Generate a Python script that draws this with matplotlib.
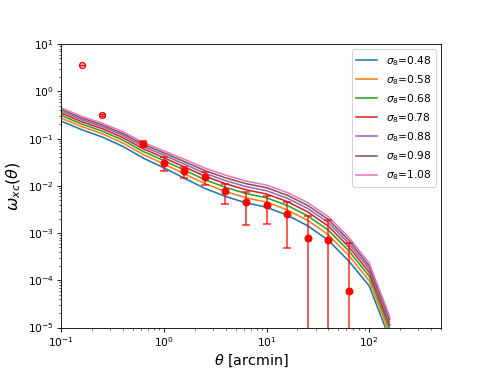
import matplotlib
matplotlib.use('Agg')
import matplotlib.pyplot as plt
import numpy as np

# angular bins [arcmin] where the model is evaluated
theta = [0.1, 0.158, 0.251, 0.398, 0.631, 1.0, 1.585, 2.51, 3.98, 6.31,
         10.0, 15.85, 25.1, 39.8, 63.1, 100.0, 158.0]

sigma8 = [0.48, 0.58, 0.68, 0.78, 0.88, 0.98, 1.08]

# model curves, one per sigma8
w_048 = [0.234, 0.155, 0.108, 0.0684, 0.0385, 0.0240, 0.01445, 0.00881, 0.00596, 0.00437,
         0.00351, 0.0024, 0.00143, 0.000708, 0.000257, 7.59e-5, 5.82e-6]
w_058 = [0.272, 0.180, 0.127, 0.0807, 0.0459, 0.0291, 0.0179, 0.0111, 0.00759, 0.00558,
         0.00452, 0.0031, 0.00186, 0.000927, 0.000337, 9.82e-5, 7.5e-6]
w_068 = [0.309, 0.204, 0.144, 0.0929, 0.0533, 0.0342, 0.0215, 0.01346, 0.00929, 0.00687,
         0.00558, 0.00385, 0.00232, 0.00116, 0.000422, 1.22e-4, 9.27e-6]
w_078 = [0.345, 0.228, 0.162, 0.105, 0.0607, 0.0394, 0.0251, 0.0160, 0.0111, 0.00824,
         0.00671, 0.00466, 0.00281, 0.00141, 0.000513, 1.47e-4, 1.11e-5]
w_088 = [0.379, 0.251, 0.179, 0.117, 0.0679, 0.0446, 0.0288, 0.01845, 0.0129, 0.00964,
         0.00787, 0.00548, 0.00332, 0.00168, 0.000608, 1.73e-4, 1.31e-5]
w_098 = [0.413, 0.273, 0.195, 0.128, 0.075, 0.0498, 0.0325, 0.0210, 0.0148, 0.0111,
         0.0091, 0.00634, 0.00385, 0.00195, 0.000708, 2.0e-4, 1.51e-5]
w_108 = [0.447, 0.295, 0.211, 0.140, 0.0822, 0.0550, 0.0363, 0.0237, 0.0168, 0.0126,
         0.01035, 0.00724, 0.00442, 0.00224, 0.000813, 2.29e-4, 1.72e-5]
models = [w_048, w_058, w_068, w_078, w_088, w_098, w_108]

# measurements (first two drawn as open circles)
theta_obs = [0.158, 0.251, 0.631, 1.0, 1.585, 2.51, 3.98, 6.31, 10.0, 15.85, 25.1, 39.8, 63.1]
w_obs = [3.59, 0.313, 0.076, 0.0312, 0.0204, 0.0152, 0.0077, 0.00456, 0.00388, 0.00259,
         0.000803, 0.000703, 5.93e-5]
w_hi = [3.62, 0.33, 0.088, 0.0409, 0.025, 0.0194, 0.0112, 0.00743, 0.00602, 0.00456,
        0.00227, 0.00193, 0.00061]
w_lo = [3.56, 0.297, 0.065, 0.0207, 0.015, 0.0103, 0.00422, 0.00146, 0.00156, 0.000483,
        1e-8, 1e-8, 1e-8]
n_open = 2

fig, ax = plt.subplots(figsize=(490 / 76.6, 368 / 76.6), dpi=76.6)

for s, w in zip(sigma8, models):
    ax.plot(theta, w, label=r'$\sigma_8$=%.2f' % s)

t = np.array(theta_obs)
w = np.array(w_obs)
err = np.array([w - np.array(w_lo), np.array(w_hi) - w])

eb = ax.errorbar(t[n_open:], w[n_open:], yerr=err[:, n_open:], fmt='o', color='red',
                 ms=6.5, capsize=3.5, elinewidth=1.6, capthick=1.6, zorder=3)
for c in list(eb[1]) + list(eb[2]):
    c.set_alpha(0.75)

ax.errorbar(t[:n_open], w[:n_open], yerr=err[:, :n_open], fmt='o', color='red',
            mfc='none', mew=1.3, ms=5.5, capsize=3, elinewidth=1.3, zorder=3)

ax.set_xscale('log')
ax.set_yscale('log')
ax.set_xlim(0.1, 500)
ax.set_ylim(1e-5, 10)
ax.set_xlabel(r'$\theta$ [arcmin]', fontsize=13.5)
ax.set_ylabel(r'$\omega_{xc}(\theta)$', fontsize=15)
ax.legend(loc='upper right')

plt.savefig('out.png', dpi=76.6)
